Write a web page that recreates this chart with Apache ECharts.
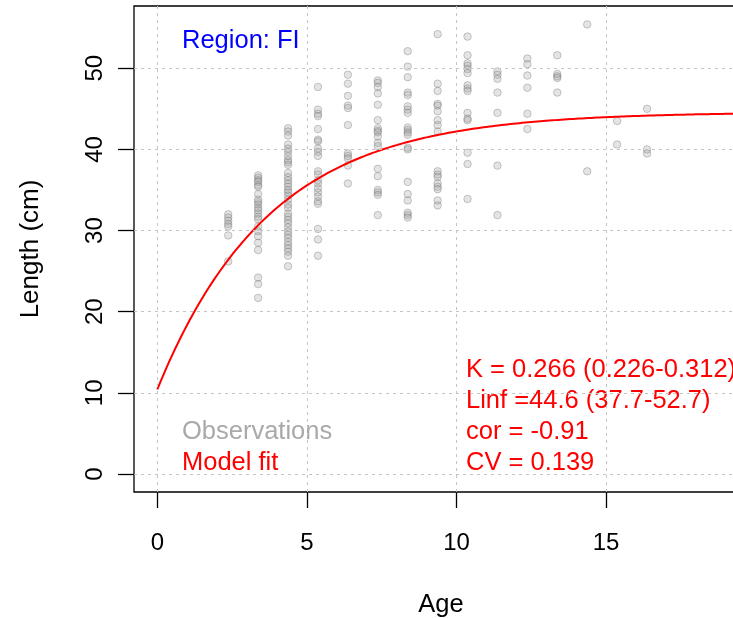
<!DOCTYPE html>
<html>
<head>
<meta charset="utf-8">
<script src="https://cdn.jsdelivr.net/npm/echarts@6/dist/echarts.min.js"></script>
<style>
  html, body { margin: 0; padding: 0; background: #fff; overflow: hidden; }
  #chart { width: 733px; height: 618px; }
</style>
</head>
<body>
<div id="chart"></div>
<script>
// Age classes (years) and the observed lengths (cm) at each age
const ageClasses = [2.37, 3.37, 4.37, 5.37, 6.37, 7.37, 8.37, 9.37, 10.37, 11.37, 12.37, 13.37, 14.37, 15.37, 16.37];
const lengthsByAge = [
  [32.0, 31.6, 31.2, 30.8, 30.5, 29.4, 26.2],
  [36.8, 36.5, 36.2, 36.0, 35.6, 35.4, 34.5, 33.8, 33.5, 33.2, 32.8, 32.5, 32.1, 31.7, 31.4, 30.5, 29.9, 29.3, 28.5, 27.6, 24.2, 23.4, 21.7],
  [42.6, 42.2, 41.7, 40.6, 40.1, 39.7, 39.2, 38.7, 38.4, 38.1, 37.1, 36.6, 36.2, 35.8, 35.4, 35.0, 34.7, 34.3, 33.8, 33.2, 32.8, 32.1, 31.7, 31.3, 30.9, 30.4, 29.9, 29.5, 29.1, 28.6, 28.2, 27.8, 27.4, 26.9, 25.6],
  [47.7, 44.9, 44.4, 44.1, 42.5, 41.2, 41.0, 40.1, 39.7, 39.2, 37.3, 36.9, 36.2, 35.8, 35.2, 34.7, 34.2, 33.6, 33.3, 30.2, 28.9, 26.9],
  [49.2, 48.1, 46.6, 45.4, 45.1, 43.0, 39.5, 39.2, 38.9, 38.0, 35.8],
  [48.5, 48.2, 47.7, 46.9, 45.5, 43.6, 42.6, 42.3, 42.1, 41.6, 40.8, 40.4, 37.6, 36.7, 35.0, 34.7, 34.4, 31.9],
  [52.1, 50.2, 48.9, 47.0, 46.7, 45.3, 44.9, 44.5, 42.7, 42.4, 42.1, 41.8, 40.2, 40.0, 36.0, 34.5, 33.7, 32.2, 31.9, 31.6],
  [54.2, 48.1, 47.2, 45.6, 45.4, 44.7, 43.6, 43.0, 42.2, 37.3, 36.9, 36.6, 35.8, 35.4, 35.1, 33.7, 33.1],
  [53.9, 51.6, 50.6, 50.3, 49.9, 49.4, 47.9, 47.5, 47.2, 44.5, 43.8, 43.6, 39.6, 38.2, 33.9],
  [49.6, 49.2, 48.7, 47.0, 44.5, 38.0, 31.9],
  [51.2, 50.5, 49.1, 47.6, 44.4, 42.5],
  [51.6, 49.3, 49.0, 48.8, 47.0],
  [55.4, 37.3],
  [43.5, 40.6],
  [45.0, 40.0, 39.5]
];

// von Bertalanffy growth parameters of the fitted model
const Linf = 44.6;
const K = 0.266;
const t0 = -1.0;
const fitAges = [];
for (let t = 0; t <= 20.5; t += 0.1) fitAges.push(+t.toFixed(2));

// Axis tick labels
const xTicks = [0, 5, 10, 15];
const yTicks = [0, 10, 20, 30, 40, 50];

// Annotation text
const regionLabel = 'Region: FI';
const statLines = ['K = 0.266 (0.226-0.312)', 'Linf =44.6 (37.7-52.7)', 'cor = -0.91', 'CV = 0.139'];
const legendLines = ['Observations', 'Model fit'];

const FONT = '"Liberation Sans", Arial, sans-serif';

const observations = [];
ageClasses.forEach((a, i) => lengthsByAge[i].forEach(v => observations.push([a, v])));
const fitLine = fitAges.map(t => [t, Linf * (1 - Math.exp(-K * (t - t0)))]);

const gridLine = { color: '#c4c4c4', width: 1, type: [3, 4] };

const chart = echarts.init(document.getElementById('chart'), null, { renderer: 'canvas' });
chart.setOption({
  animation: false,
  backgroundColor: '#ffffff',
  grid: {
    // the plotting box runs past the right edge of the canvas
    left: 134, top: 6, bottom: 126, width: 630,
    outerBoundsMode: 'none', containLabel: false,
    show: true, borderColor: '#000', borderWidth: 1.3, backgroundColor: 'transparent'
  },
  xAxis: {
    type: 'value', min: -0.78, max: 20.28,
    name: 'Age', nameLocation: 'middle', nameGap: 100,
    nameTextStyle: { fontFamily: FONT, fontSize: 25.5, color: '#000', padding: [0, 16, 0, 0] },
    axisLine: { show: false, onZero: false },
    axisTick: { show: true, length: 16, customValues: xTicks, lineStyle: { color: '#000', width: 1.3 } },
    axisLabel: { customValues: xTicks, margin: 39, fontFamily: FONT, fontSize: 24, color: '#000' },
    splitLine: { show: false }
  },
  yAxis: {
    type: 'value', min: -2.22, max: 57.67,
    name: 'Length (cm)', nameLocation: 'middle', nameGap: 90, nameRotate: 90,
    nameTextStyle: { fontFamily: FONT, fontSize: 26, color: '#000' },
    axisLine: { show: false, onZero: false },
    axisTick: { show: true, length: 16, customValues: yTicks, lineStyle: { color: '#000', width: 1.3 } },
    axisLabel: { customValues: yTicks, rotate: 90, margin: 27, fontFamily: FONT, fontSize: 24, color: '#000' },
    splitLine: { show: false }
  },
  series: [
    {
      // dotted reference grid at the tick positions
      type: 'line', data: [], silent: true,
      markLine: {
        silent: true, symbol: 'none', label: { show: false }, animation: false,
        lineStyle: gridLine,
        data: xTicks.map(v => ({ xAxis: v })).concat(yTicks.map(v => ({ yAxis: v })))
      }
    },
    {
      type: 'scatter', data: observations, symbol: 'circle', symbolSize: 7.5,
      itemStyle: { color: 'rgba(150,150,150,0.32)', borderColor: 'rgba(110,110,110,0.45)', borderWidth: 1 },
      z: 3
    },
    {
      type: 'line', data: fitLine, showSymbol: false, smooth: false, clip: true,
      lineStyle: { color: '#ff0000', width: 2 }, z: 4
    }
  ],
  graphic: [
    { type: 'text', left: 182, top: 28, style: { text: regionLabel, fill: '#0000ff', font: '25.5px ' + FONT } },
    { type: 'text', left: 182, top: 419, style: { text: legendLines[0], fill: '#a9a9a9', font: '25.5px ' + FONT } },
    { type: 'text', left: 182, top: 450, style: { text: legendLines[1], fill: '#ff0000', font: '25.5px ' + FONT } }
  ].concat(statLines.map((s, i) => ({
    type: 'text', left: 466, top: 357 + i * 31, style: { text: s, fill: '#ff0000', font: '25.5px ' + FONT }
  })))
});
</script>
</body>
</html>
